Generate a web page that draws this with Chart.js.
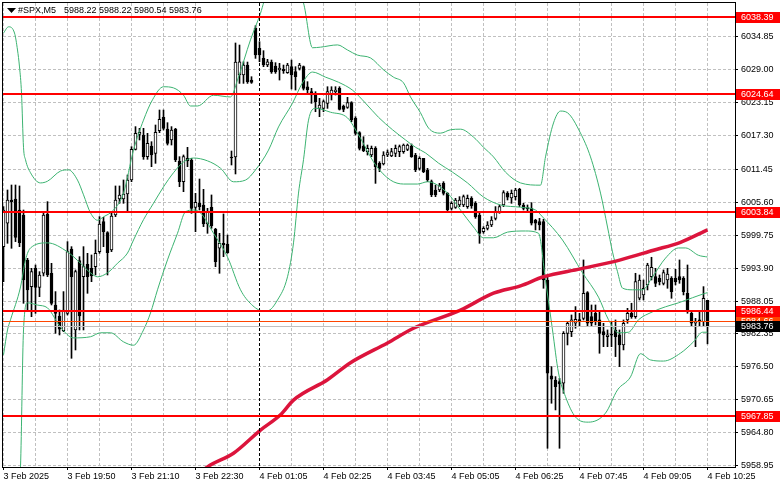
<!DOCTYPE html>
<html>
<head>
<meta charset="utf-8">
<script src="https://cdn.jsdelivr.net/npm/chart.js@4.4.1/dist/chart.umd.min.js"></script>
<style>
html,body{margin:0;padding:0;background:#fff}
#myChart{display:block}
</style>
</head>
<body>
<canvas id="myChart" width="781" height="489"></canvas>
<script>
// ---- data ----
const symbol = '#SPX,M5';
const lastBar = [5988.22, 5988.22, 5980.54, 5983.76];
const timeLabels = ['3 Feb 2025','3 Feb 19:50','3 Feb 21:10','3 Feb 22:30','4 Feb 01:05','4 Feb 02:25',
                    '4 Feb 03:45','4 Feb 05:05','4 Feb 06:25','4 Feb 07:45','4 Feb 09:05','4 Feb 10:25'];
const yTicks = [5958.95,5964.80,5970.65,5976.50,5982.35,5988.05,5993.90,5999.75,6005.60,6011.45,6017.30,6023.15,6029.00,6034.85];

const openP = [5997.73,6001.86,6005.98,6006.16,6004.21,6003.33,5995.37,5990.66,5993.90,5990.54,
5993.02,6003.51,5993.02,5987.42,5985.47,5982.88,5985.94,5997.32,5983.00,5995.26,
5992.43,5994.61,5993.90,5994.19,5996.85,6002.15,6000.21,5997.14,6003.33,6006.16,
6006.16,6007.04,6009.52,6014.94,6017.59,6017.47,6013.64,6015.53,6014.23,6018.24,
6020.60,6018.53,6016.59,6018.53,6012.88,6009.22,6013.35,6013.05,6004.68,6005.39,
6005.10,6001.74,6004.68,6000.79,5997.44,5998.32,5998.20,6013.58,6013.58,6028.08,
6028.08,6029.84,6027.19,6036.33,6032.79,6031.02,6029.84,6030.37,6029.67,6028.96,
6029.08,6028.49,6029.55,6028.67,6029.25,6029.55,6026.01,6025.13,6024.54,6022.18,
6022.18,6023.07,6024.54,6025.13,6025.72,6022.60,6022.36,6023.19,6020.42,6017.88,
6015.52,6014.52,6013.93,6015.11,6012.46,6012.34,6013.93,6013.76,6014.23,6014.52,
6014.52,6014.93,6015.52,6013.93,6011.58,6013.34,6011.28,6009.22,6007.75,6007.75,
6008.92,6007.16,6004.50,6004.68,6005.09,6005.09,6004.80,6006.28,6005.39,6003.33,
6000.39,6000.97,6001.56,6002.74,6003.92,6005.10,6007.16,6006.34,6006.57,6007.87,
6005.10,6004.51,6004.51,6002.45,6002.15,6002.15,5991.84,5974.87,5974.16,5973.87,
5973.57,5982.41,5982.71,5984.18,5984.77,5985.06,5989.60,5985.36,5985.95,5984.77,
5982.71,5981.82,5982.12,5983.00,5982.12,5980.35,5984.77,5985.95,5985.36,5988.60,
5989.19,5990.96,5992.43,5992.43,5992.14,5991.25,5991.84,5992.14,5992.14,5992.43,
5992.14,5989.48,5985.95,5984.18,5984.77,5984.47,5988.22];

const highP = [6004.80,6007.75,6008.63,6008.63,6008.46,6004.21,5995.67,5993.90,5994.49,5993.31,
6003.74,6005.69,5994.78,5989.78,5986.53,5989.78,5998.62,5997.73,5993.61,5995.96,
5997.73,5996.55,5996.26,5998.91,6003.04,6002.92,6000.38,6003.62,6008.46,6008.46,
6009.52,6010.40,6015.41,6018.95,6018.65,6018.65,6017.77,6016.29,6019.24,6021.89,
6021.89,6019.65,6018.95,6018.65,6013.64,6013.94,6015.29,6013.35,6007.16,6009.69,
6007.87,6004.51,6006.87,6000.97,6000.09,6003.51,5999.79,6014.64,6033.74,6033.38,
6030.43,6030.37,6027.78,6036.80,6033.97,6032.38,6030.85,6030.73,6030.26,6030.14,
6029.84,6030.14,6030.73,6029.55,6030.14,6029.67,6026.90,6025.72,6025.13,6023.95,
6023.66,6026.01,6026.01,6026.01,6026.01,6022.77,6024.13,6023.36,6020.71,6018.06,
6017.17,6015.70,6015.52,6015.41,6012.75,6014.52,6014.82,6015.11,6015.70,6015.70,
6015.88,6015.88,6015.88,6014.23,6013.64,6013.34,6011.58,6009.51,6008.63,6008.92,
6009.22,6007.27,6005.68,6006.27,6006.57,6006.86,6006.86,6006.57,6005.69,6003.63,
6001.27,6002.15,6003.04,6004.81,6005.10,6007.63,6007.46,6007.75,6008.05,6008.05,
6005.39,6005.10,6005.51,6002.57,6002.74,6002.57,5992.43,5976.52,5974.75,5974.46,
5982.71,5984.47,5985.65,5987.13,5985.95,5995.38,5989.78,5987.42,5987.42,5986.24,
5984.18,5983.00,5984.47,5984.77,5983.00,5984.77,5986.83,5987.72,5993.02,5992.72,
5991.84,5994.79,5995.85,5993.90,5992.72,5993.61,5993.90,5992.43,5993.73,5995.38,
5992.43,5994.49,5986.24,5985.06,5986.24,5990.66,5988.22];

const lowP = [5991.54,5998.32,5997.44,5998.62,5997.73,5987.71,5986.53,5985.35,5985.94,5988.89,
5992.55,5992.43,5987.42,5982.41,5982.11,5982.70,5985.65,5977.99,5979.46,5983.00,
5983.00,5989.48,5991.54,5992.72,5996.55,5997.73,5992.72,5996.85,6003.04,6005.39,
6005.39,6003.92,6009.22,6014.82,6016.59,6013.17,6013.17,6011.87,6012.46,6017.88,
6018.36,6015.70,6015.70,6012.76,6008.34,6007.45,6011.87,6003.62,6000.38,6004.21,
6001.27,6000.09,6000.97,5994.19,5993.02,5995.96,5996.55,6012.17,6010.58,6026.60,
6026.60,6026.60,6026.60,6031.02,6030.43,6029.55,6029.55,6028.37,6028.37,6027.19,
6028.37,6028.37,6025.60,6025.42,6028.96,6025.42,6024.84,6023.07,6021.59,6020.71,
6021.59,6022.18,6023.66,6024.54,6021.89,6021.59,6022.18,6019.83,6017.47,6014.82,
6014.52,6013.93,6013.64,6008.92,6010.99,6012.17,6013.64,6013.64,6013.64,6013.64,
6014.23,6014.70,6013.52,6010.99,6011.28,6010.81,6009.22,6006.57,6006.57,6007.45,
6006.86,6003.92,6004.21,6004.50,6004.80,6004.80,6004.50,6004.51,6002.74,5998.32,
6000.09,6000.68,6001.27,6002.45,6003.63,6004.81,6005.98,6005.39,6005.98,6004.81,
6004.22,6003.92,6001.56,6000.68,6000.68,5990.37,5962.08,5970.04,5968.86,5962.08,
5971.80,5980.35,5981.82,5983.30,5983.59,5984.77,5983.59,5983.59,5983.89,5978.88,
5980.05,5980.05,5980.05,5978.29,5976.52,5979.47,5984.18,5985.06,5985.06,5988.31,
5988.31,5990.07,5991.84,5990.66,5990.96,5990.96,5990.37,5988.60,5990.96,5991.25,
5989.19,5985.95,5983.59,5980.05,5983.59,5983.59,5980.54];

const closeP = [6004.21,6005.98,6005.69,5999.38,5998.44,5991.84,5990.07,5993.31,5990.54,5992.72,
6003.33,5992.72,5987.71,5985.94,5983.12,5986.53,5996.85,5992.43,5993.31,5985.47,
5994.19,5992.43,5992.55,5996.55,6001.74,6000.38,5996.67,6003.15,6005.98,6006.87,
6007.04,6009.52,6014.94,6017.77,6017.94,6013.64,6016.00,6013.94,6017.94,6020.24,
6018.65,6016.00,6018.36,6013.05,6009.22,6013.64,6012.88,6004.51,6005.57,6004.80,
6001.74,6003.80,6001.39,5995.08,5998.32,5998.03,5996.67,6013.41,6030.38,6030.43,
6029.84,6026.90,6026.78,6031.61,6031.61,6029.84,6030.43,6028.61,6028.67,6029.31,
6028.84,6029.84,6028.08,6027.78,6029.84,6025.72,6025.42,6024.54,6023.36,6022.77,
6023.36,6025.13,6025.42,6025.42,6022.01,6022.01,6023.19,6020.12,6017.76,6015.11,
6014.70,6015.11,6015.11,6011.87,6011.58,6013.93,6014.35,6014.52,6015.11,6015.41,
6015.70,6015.70,6013.64,6011.28,6013.34,6010.99,6009.51,6006.86,6006.86,6008.63,
6007.16,6004.21,6005.39,6005.98,6005.98,6006.57,6006.27,6004.92,6003.04,6000.09,
6000.97,6001.56,6002.45,6003.92,6004.81,6007.28,6006.46,6007.16,6007.75,6005.10,
6004.51,6004.45,6001.86,6001.86,6001.56,5991.84,5975.34,5974.28,5972.98,5973.45,
5982.41,5984.18,5984.77,5984.89,5984.65,5989.48,5984.18,5984.18,5984.47,5982.41,
5982.12,5982.12,5982.06,5981.82,5980.35,5984.18,5985.95,5985.36,5991.55,5991.84,
5990.37,5994.49,5994.08,5991.25,5991.55,5993.14,5992.90,5989.78,5991.55,5991.84,
5989.78,5986.24,5984.18,5984.47,5984.47,5988.60,5983.76];

// indicator curves: [bar, price] pairs
const bbUpper = [[0,6035.5],[1.25,6036.6],[2.75,6035.5],[3.5,6032.5],[4,6029.5],[4.5,6024.9],[5,6015.3],[5.5,6013.1],
[6.75,6010.8],[9.25,6009.0],[11,6009.3],[14.25,6011.1],[16.25,6011.3],[18.5,6009.5],[20,6006.9],[21.75,6003.7],
[23.5,6002.4],[25,6003.0],[27.5,6004.2],[30,6007.2],[32.5,6014.8],[35,6020.1],[37.25,6023.7],[40,6026.0],
[42.5,6025.8],[45,6024.5],[46.75,6022.6],[48.5,6022.6],[52.5,6024.5],[56.75,6024.2],[58.5,6027.2],[61.75,6034.3],
[64.25,6039.0],[66,6043],[70,6046],[73,6043],[75,6040.8],[77.25,6032.9],[79.25,6033.0],[83.5,6033.4],[86,6032.5],
[88.5,6031.6],[91.75,6031.1],[95,6029.0],[97.5,6027.7],[100,6026.7],[101.75,6024.2],[104.25,6021.4],[106.25,6018.7],
[109.25,6017.8],[111.75,6018.4],[114.25,6018.5],[117.5,6017.1],[120,6015.3],[122.5,6013.6],[125.5,6010.9],
[129.25,6009.0],[134.25,6008.6],[135.5,6013.6],[137.5,6019.6],[139.25,6021.7],[141,6021.4],[144.25,6017.8],
[146.75,6013.6],[149.25,6007.2],[151,6001.2],[152.25,5996.8],[153.5,5993.3],[154.75,5990.4],[157.25,5990.1],
[159.75,5990.1],[162.25,5992.4],[165.5,5995.7],[168.75,5997.5],[170.5,5997.5],[173.75,5996.2],[176,5995.9]];

const bbMiddle = [[0,5978.6],[1,5983.0],[1.75,5984.8],[4.25,5990.6],[5.5,5995.4],[6.75,5997.5],[11,5998.4],[16,5996.8],
[19.25,5994.8],[21.75,5993.1],[23.5,5992.4],[26,5993.1],[28.5,5994.8],[31,5996.6],[32.5,5998.9],[35,6002.5],
[37.5,6005.4],[40,6008.3],[42.5,6010.8],[45,6012.7],[47.5,6013.4],[51,6012.9],[54.25,6011.6],[57.5,6009.2],
[60.5,6009.5],[63,6011.3],[66.25,6014.8],[68.75,6018.9],[72.25,6023.1],[74.75,6026.7],[77.25,6028.6],[80.5,6027.7],
[83.75,6026.8],[87.25,6025.4],[90.5,6023.1],[93.75,6020.6],[97.25,6018.4],[100.5,6016.6],[103,6015.3],[105.5,6014.3],
[108.75,6012.5],[112.25,6010.9],[116,6009.0],[120,6006.5],[124.25,6005.1],[129.25,6004.7],[133,6004.2],[134.75,6003.0],
[139.75,5998.9],[144.75,5993.1],[148.75,5988.8],[151.25,5984.8],[153.75,5982.5],[156.25,5982.6],[158.75,5984.8],
[162.25,5986.2],[165.5,5987.1],[168.75,5987.8],[172.25,5988.7],[175.5,5989.5],[176,5989.6]];

const bbLower = [[0,5945],[3,5950],[4.25,5958.8],[5,5983.0],[6,5987.8],[8.5,5987.4],[11,5986.9],[14.25,5983.5],
[17.5,5981.6],[21.75,5981.8],[24.25,5982.5],[26.75,5982.5],[30,5980.9],[32.5,5980.3],[35,5983.0],[36.75,5986.0],
[38.5,5990.1],[41,5995.4],[43.5,6000.1],[45.5,6003.9],[47.5,6004.2],[49.25,6003.7],[52.5,6000.1],[56,5995.9],
[59.25,5990.1],[62,5987.5],[64.75,5986.4],[66,5986.4],[68.5,5988.3],[71,5992.4],[72.5,5998.4],[73.75,6007.2],
[75,6013.1],[76.25,6020.1],[78,6022.2],[81.75,6021.5],[86,6020.5],[88.75,6017.5],[93,6012.2],[96.75,6009.5],
[100,6008.8],[103.5,6008.8],[106,6009.2],[111,6007.2],[114.25,6004.2],[117.5,6001.2],[120,5999.3],[122.5,5999.3],
[126,6000.3],[130.5,6000.5],[133.75,6000.1],[135.5,5991.8],[137.25,5983.0],[138.75,5975.4],[140.5,5971.2],
[143,5967.6],[146.25,5966.7],[150.5,5968.3],[153.5,5972.4],[156.75,5974.7],[159.25,5978.8],[161.75,5977.7],
[165,5977.5],[169.25,5978.9],[172.5,5980.9],[174.75,5982.6],[176,5982.6]];

const maLine = [[45,5955.0],[51,5958.8],[57.5,5961.2],[64.25,5965.3],[69.25,5968.0],[72.5,5970.6],[81,5974.2],
[86.75,5977.2],[96,5980.7],[102.5,5983.3],[114.25,5986.5],[122.5,5989.5],[129.25,5990.8],[135,5992.4],
[144.25,5993.8],[154.25,5995.4],[162.5,5997.1],[169.25,5998.5],[176,6000.7]];

const levels = [6038.39, 6024.64, 6003.84, 5986.44, 5967.85];
const tradeLevel = 5984.66;
const bidLevel = 5983.76;
const markerBar = 64;

const FONT = '"Liberation Sans", Arial, sans-serif';
Chart.defaults.font.family = FONT;
Chart.defaults.font.size = 9;
Chart.defaults.color = '#000';

const pts = arr => arr.map(p => ({x: p[0], y: p[1]}));

const overlay = {
    id: 'overlay',
    afterDatasetsDraw(chart) {
        const {ctx, chartArea: a, scales: {x, y}} = chart;
        ctx.save();
        ctx.beginPath();
        ctx.rect(a.left, a.top, a.right - a.left, a.bottom - a.top);
        ctx.clip();
        // vertical dashed marker
        const mx = x.getPixelForValue(markerBar);
        ctx.strokeStyle = '#000';
        ctx.lineWidth = 1;
        ctx.setLineDash([3, 2]);
        ctx.beginPath(); ctx.moveTo(mx, a.top); ctx.lineTo(mx, a.bottom); ctx.stroke();
        ctx.setLineDash([]);
        // bid line
        let py = Math.round(y.getPixelForValue(bidLevel)) + 0.5;
        ctx.strokeStyle = '#c0c0c0';
        ctx.beginPath(); ctx.moveTo(a.left, py); ctx.lineTo(a.right, py); ctx.stroke();
        // order line
        py = Math.round(y.getPixelForValue(tradeLevel)) + 0.5;
        ctx.strokeStyle = '#ff4500';
        ctx.beginPath(); ctx.moveTo(a.left, py); ctx.lineTo(a.right, py); ctx.stroke();
        // horizontal levels
        ctx.strokeStyle = '#ff0000';
        ctx.lineWidth = 2;
        levels.forEach(v => {
            const ly = Math.round(y.getPixelForValue(v));
            ctx.beginPath(); ctx.moveTo(a.left, ly); ctx.lineTo(a.right, ly); ctx.stroke();
        });
        ctx.restore();
    },
    afterDraw(chart) {
        const {ctx, chartArea: a, scales: {y}} = chart;
        ctx.save();
        // frame
        ctx.strokeStyle = '#000';
        ctx.lineWidth = 1;
        ctx.strokeRect(a.left - 0.5, a.top - 0.5, a.right - a.left + 1, a.bottom - a.top + 1);
        // price tags on the right
        ctx.font = '9px ' + FONT;
        ctx.textBaseline = 'middle';
        const tag = (v, bg) => {
            const ty = Math.round(y.getPixelForValue(v));
            ctx.fillStyle = bg;
            ctx.fillRect(a.right + 1, ty - 5, chart.width - a.right - 2, 11);
            ctx.fillStyle = '#fff';
            ctx.fillText(v.toFixed(2), a.right + 6, ty + 0.5);
        };
        tag(tradeLevel, '#ff4500');
        tag(bidLevel, '#000');
        levels.forEach(v => tag(v, '#ff0000'));
        // title
        ctx.fillStyle = '#000';
        ctx.beginPath(); ctx.moveTo(7, 8); ctx.lineTo(16, 8); ctx.lineTo(11.5, 13); ctx.closePath(); ctx.fill();
        ctx.fillText(symbol, a.left + 15, 10.5);
        ctx.fillText(lastBar.map(v => v.toFixed(2)).join(' '), a.left + 61, 10.5);
        ctx.restore();
    }
};

const ctx = document.getElementById('myChart');

let candleChart = new Chart(ctx, {
    type: 'bar',
    data: {
        datasets: [
            {
                label: 'wicks',
                data: lowP.map((l, i) => ({x: i, y: [l, highP[i]]})),
                backgroundColor: '#000',
                borderWidth: 0,
                barThickness: 1,
                grouped: false,
                order: 4
            },
            {
                label: 'bodies',
                data: openP.map((o, i) => ({x: i, y: [o, closeP[i]]})),
                backgroundColor: closeP.map((c, i) => c >= openP[i] ? '#ffffff' : '#000000'),
                borderColor: '#000',
                borderWidth: 1,
                borderSkipped: false,
                barThickness: 3,
                minBarLength: 1,
                grouped: false,
                order: 3
            },
            {
                type: 'line', label: 'bb upper', data: pts(bbUpper),
                borderColor: '#3cb371', borderWidth: 1, pointRadius: 0,
                cubicInterpolationMode: 'monotone', order: 2
            },
            {
                type: 'line', label: 'bb middle', data: pts(bbMiddle),
                borderColor: '#3cb371', borderWidth: 1, pointRadius: 0,
                cubicInterpolationMode: 'monotone', order: 2
            },
            {
                type: 'line', label: 'bb lower', data: pts(bbLower),
                borderColor: '#3cb371', borderWidth: 1, pointRadius: 0,
                cubicInterpolationMode: 'monotone', order: 2
            },
            {
                type: 'line', label: 'ma', data: pts(maLine),
                borderColor: '#dc143c', borderWidth: 3.5, pointRadius: 0,
                cubicInterpolationMode: 'monotone', order: 1
            }
        ]
    },
    options: {
        responsive: false,
        animation: false,
        devicePixelRatio: 1,
        layout: { padding: { left: 3, top: 3, right: 0, bottom: 0 } },
        plugins: { legend: { display: false }, tooltip: { enabled: false } },
        scales: {
            x: {
                type: 'linear',
                offset: false,
                min: -0.125,
                max: 182.875,
                afterBuildTicks: s => { s.ticks = timeLabels.flatMap((t, k) => k < timeLabels.length - 1 ? [{value: k * 16}, {value: k * 16 + 8}] : [{value: k * 16}]); },
                afterFit: s => { s.height = 22; s.paddingLeft = 0; s.paddingRight = 0; },
                ticks: {
                    autoSkip: false, maxRotation: 0, align: 'start', padding: 1,
                    callback: v => v % 16 === 0 ? timeLabels[v / 16] : ''
                },
                grid: {
                    offset: false,
                    color: '#c0c0c0', tickLength: 3,
                    tickColor: c => (c.tick && c.tick.value % 16 === 0) ? '#000' : 'rgba(0,0,0,0)'
                },
                border: { display: false, dash: [3, 2] }
            },
            y: {
                position: 'right',
                min: 5958.77,
                max: 6040.81,
                afterBuildTicks: s => { s.ticks = yTicks.map(v => ({value: v})); },
                afterFit: s => { s.width = 46; s.paddingTop = 0; s.paddingBottom = 0; },
                ticks: { padding: 3, callback: v => v.toFixed(2) },
                grid: { color: '#c0c0c0', tickLength: 3, tickColor: '#000' },
                border: { display: false, dash: [3, 2] }
            }
        }
    },
    plugins: [overlay]
});
</script>
</body>
</html>
